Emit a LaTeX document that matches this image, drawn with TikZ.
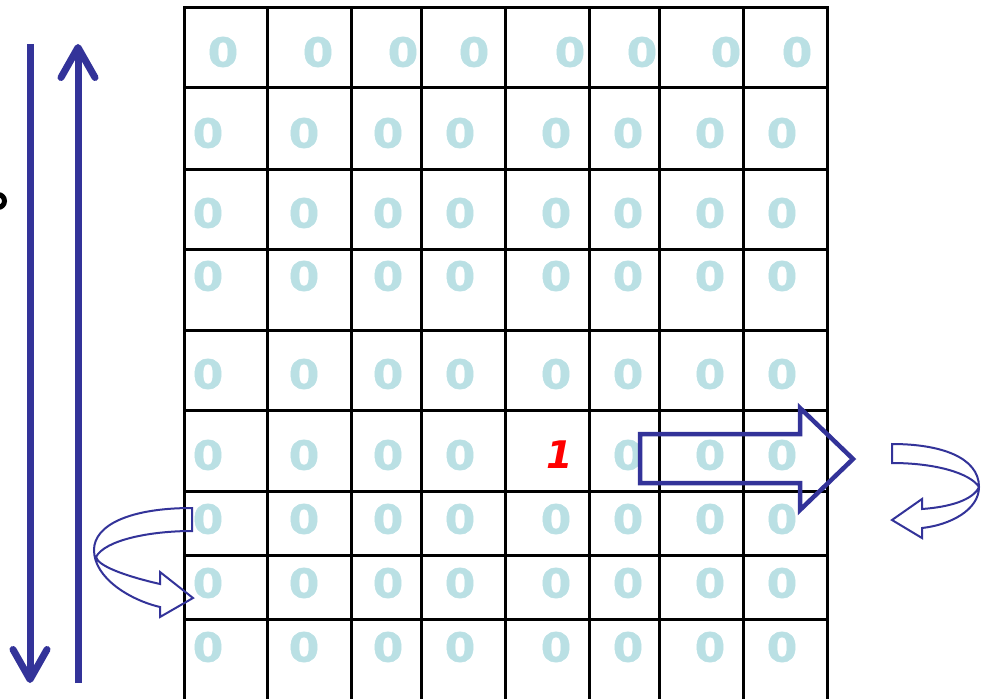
\documentclass[tikz,border=0pt]{standalone}
\usepackage{fontspec}
\setmainfont{DejaVu Sans}
\newfontfamily\digitfont[FakeStretch=1.1,FakeBold=1.2]{DejaVu Sans}
\usetikzlibrary{arrows.meta}
\definecolor{navy}{RGB}{51,51,153}
\definecolor{pale}{RGB}{186,224,228}

\begin{document}
\begin{tikzpicture}[
  x=1pt, y=-1pt,
  grid/.style={line width=3pt, line cap=rect},
  zero/.style={font=\digitfont\bfseries\fontsize{40}{40}\selectfont, text=pale, inner sep=0pt},
  one/.style={font=\bfseries\itshape\fontsize{38}{38}\selectfont, text=red, inner sep=0pt},
  bar/.style={navy, line width=7pt, -{Straight Barb[length=30pt,width=34pt,round]}},
  block/.style={draw=navy, line width=4.5pt, line join=miter},
  twist/.style={draw=navy, line width=2pt, line join=miter}
]
\useasboundingbox (0,0) rectangle (981,698);

\foreach \x in {184,267,351,421,505,589,659,743,827}
  \draw[grid] (\x,8) -- (\x,710);
\foreach \y in {8,88,169,249,330,410,491,555,619}
  \draw[grid] (184,\y) -- (827,\y);

\foreach \x [count=\c] in {223,318,403,474,570,642,726,797}
  \node[zero] (z1\c) at (\x,52) {0};
\foreach \y [count=\r from 2] in {133,213,276,374,455,519,583,647}
  \foreach \x [count=\c] in {208,304,388,460,556,628,710,782}
    {\ifnum\numexpr\r*10+\c\relax=65 \else\node[zero] (z\r\c) at (\x,\y) {0};\fi}
\node[one] (z65) at (560,455) {1};

\coordinate (downtop) at (30,44);
\coordinate (downend) at (30,683);
\coordinate (upend) at (78,44);
\coordinate (uptop) at (78,683);
\draw[bar] (downtop) -- (downend);
\draw[bar] (uptop) -- (upend);

\draw[line width=5pt] (-2,201) circle (6.5);

\draw[block] (640,434) -- (800,434) -- (800,408) -- (853,459)
  -- (800,510) -- (800,483) -- (640,483) -- cycle;

\draw[twist] (892,444) .. controls (940,444) and (979,457) .. (979,487)
  .. controls (979,510) and (950,525) .. (922,528)
  -- (922,538) -- (892,520) -- (922,499) -- (922,509)
  .. controls (950,507) and (973,500) .. (979,487)
  .. controls (970,473) and (935,463) .. (892,463) -- cycle;

\draw[twist] (192,508) .. controls (130,508) and (94,525) .. (94,550)
  .. controls (94,578) and (130,600) .. (160,607)
  -- (160,617) -- (193,598) -- (160,572) -- (160,584)
  .. controls (125,576) and (98,566) .. (96,557)
  .. controls (105,540) and (150,531) .. (192,531) -- cycle;
\end{tikzpicture}
\end{document}
